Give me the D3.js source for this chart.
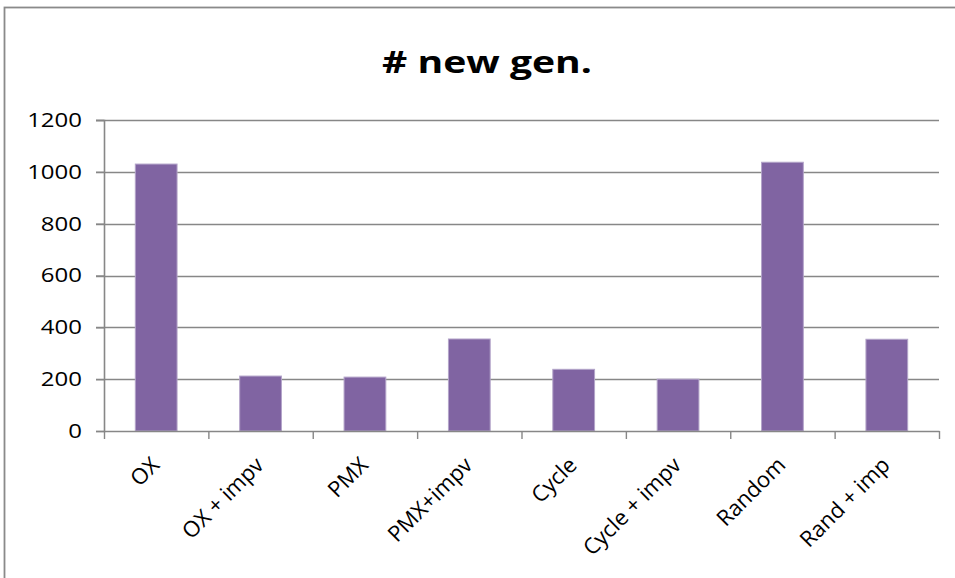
<!DOCTYPE html>
<html>
<head>
<meta charset="utf-8">
<script src="https://cdn.jsdelivr.net/npm/d3@7"></script>
<style>
  html, body { margin: 0; padding: 0; background: #fff; }
  svg { display: block; font-family: "Open Sans", "Liberation Sans", sans-serif; }
</style>
</head>
<body>
<svg id="chart" width="955" height="578"></svg>
<script>
// Number of new generations per crossover operator
const categories = ["OX", "OX + impv", "PMX", "PMX+impv", "Cycle", "Cycle + impv", "Random", "Rand + imp"];
const newGenCounts = [1030, 212, 208, 355, 238, 200, 1037, 354];
const yTickValues = [0, 200, 400, 600, 800, 1000, 1200];
const chartTitle = "# new gen.";

const svg = d3.select("#chart");
const W = 955, H = 578;
const margin = { left: 104, right: 16, top: 120, bottom: 147 };
const plotW = W - margin.left - margin.right;   // 835
const plotH = H - margin.top - margin.bottom;   // 311
const tickStretch = 1.2;                        // wide numerals on the value axis
const gridColor = "#878787";

// chart frame
svg.append("rect")
  .attr("x", 4.5).attr("y", 7.5)
  .attr("width", W + 20).attr("height", H + 20)
  .attr("fill", "#fff")
  .attr("stroke", "#8a8a8a")
  .attr("stroke-width", 1.8);

// title
svg.append("text")
  .attr("x", 487).attr("y", 73)
  .attr("text-anchor", "middle")
  .attr("font-size", 31)
  .attr("font-weight", "bold")
  .attr("textLength", 210)
  .attr("lengthAdjust", "spacingAndGlyphs")
  .attr("fill", "#000")
  .text(chartTitle);

const g = svg.append("g").attr("transform", `translate(${margin.left},${margin.top})`);

const x = d3.scaleBand()
  .domain(categories)
  .range([0, plotW])
  .paddingInner(0.6)
  .paddingOuter(0.3);

const y = d3.scaleLinear()
  .domain([0, 1200])
  .range([plotH, 0]);

// horizontal gridlines (extend past the axis as tick marks)
g.append("g")
  .selectAll("line")
  .data(yTickValues.filter(v => v > 0))
  .join("line")
  .attr("x1", -8).attr("x2", plotW)
  .attr("y1", d => Math.round(y(d)) + 0.5)
  .attr("y2", d => Math.round(y(d)) + 0.5)
  .attr("stroke", gridColor)
  .attr("stroke-width", 1.4);

// bars
g.append("g")
  .selectAll("rect")
  .data(categories)
  .join("rect")
  .attr("x", (d) => x(d))
  .attr("y", (d, i) => y(newGenCounts[i]))
  .attr("width", x.bandwidth())
  .attr("height", (d, i) => y(0) - y(newGenCounts[i]))
  .attr("fill", "#8064A2")
  .attr("stroke", "#b3a4c9")
  .attr("stroke-width", 1);

// y axis
const yAxis = g.append("g")
  .call(d3.axisLeft(y).tickValues(yTickValues).tickSize(8).tickPadding(0).tickFormat(d3.format("d")));
yAxis.select(".domain").attr("stroke", gridColor).attr("stroke-width", 1.6);
yAxis.selectAll(".tick line").attr("stroke", gridColor).attr("stroke-width", 1.4);
yAxis.selectAll(".tick text")
  .attr("x", 0)
  .attr("transform", `translate(-22,0) scale(${tickStretch},1)`)
  .attr("font-size", 20)
  .attr("font-family", "'Open Sans', sans-serif")
  .attr("fill", "#000");

// x axis: ticks at category boundaries
const boundary = d3.scaleLinear().domain([0, categories.length]).range([0, plotW]);
const xAxis = g.append("g")
  .attr("transform", `translate(0,${plotH})`)
  .call(d3.axisBottom(boundary)
    .tickValues(d3.range(categories.length + 1))
    .tickSizeInner(8).tickSizeOuter(0)
    .tickFormat(""));
xAxis.select(".domain").attr("stroke", gridColor).attr("stroke-width", 1.6);
xAxis.selectAll(".tick line").attr("stroke", gridColor).attr("stroke-width", 1.4);

// rotated category labels
g.append("g")
  .selectAll("text")
  .data(categories)
  .join("text")
  .attr("transform", d => `translate(${x(d) + x.bandwidth() / 2 - 1},${plotH + 30}) rotate(-45)`)
  .attr("text-anchor", "end")
  .attr("dy", "0.35em")
  .attr("font-size", 22)
  .attr("fill", "#000")
  .text(d => d);
</script>
</body>
</html>
